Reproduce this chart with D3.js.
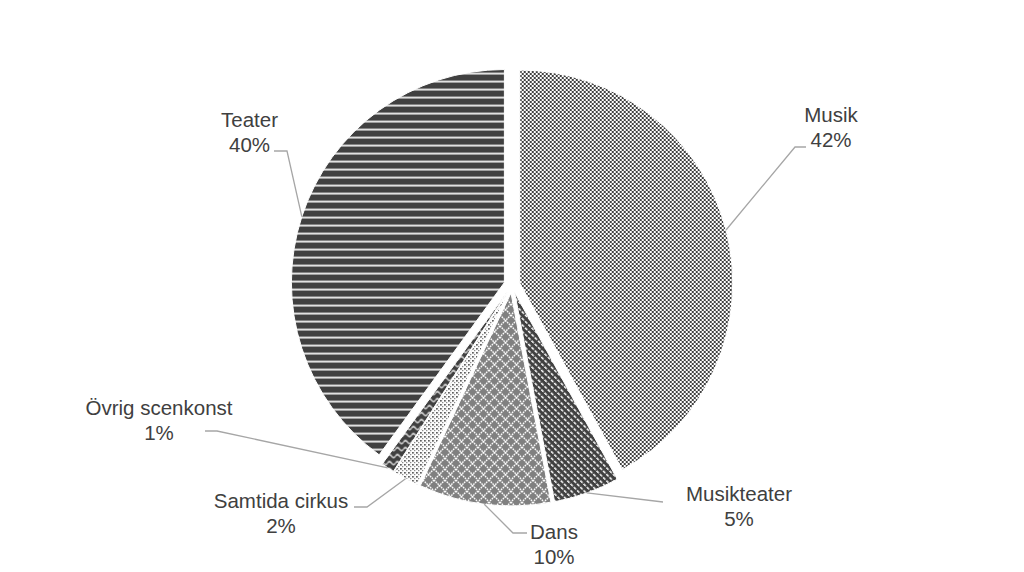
<!DOCTYPE html>
<html>
<head>
<meta charset="utf-8">
<script src="https://cdn.jsdelivr.net/npm/d3@7"></script>
<style>
html,body{margin:0;padding:0;background:#fff;}
svg{display:block;}
</style>
</head>
<body>
<svg id="chart" width="1024" height="572"></svg>
<script>
// ---- data ----
const categories = ["Musik", "Musikteater", "Dans", "Samtida cirkus", "Övrig scenkonst", "Teater"];
const values = [42, 5, 10, 2, 1, 40];
const valueLabels = ["42%", "5%", "10%", "2%", "1%", "40%"];

// ---- layout (label anchors & leader bends) ----
const labelLayout = [
  {x: 831, y: 122, pts: [[795, 147], [806, 147]]},
  {x: 739, y: 501, pts: [[663, 502]]},
  {x: 554, y: 539, pts: [[513, 533], [527, 533]]},
  {x: 281, y: 508, pts: [[367, 507], [354, 507]]},
  {x: 159, y: 415, pts: [[217, 431], [205, 431]]},
  {x: 249.5, y: 127, pts: [[287, 151], [274, 151]]}
];
const patternIds = ["pMusik", "pMusikteater", "pDans", "pSamtida", "pOvrig", "pTeater"];

const svg = d3.select("#chart");
const W = 1024, H = 572;
const cx = 512, cy = 285, R = 213, explode = 8;
const dark = "#404040";

// ---- patterns ----
const defs = svg.append("defs");
function pat(id, w, h, transform) {
  const p = defs.append("pattern").attr("id", id).attr("patternUnits", "userSpaceOnUse")
    .attr("width", w).attr("height", h);
  if (transform) p.attr("patternTransform", transform);
  return p;
}
// Musik: fine checkerboard
{
  const p = pat("pMusik", 4, 4);
  p.append("rect").attr("width", 4).attr("height", 4).attr("fill", "#fff");
  p.append("rect").attr("width", 2).attr("height", 2).attr("fill", dark);
  p.append("rect").attr("x", 2).attr("y", 2).attr("width", 2).attr("height", 2).attr("fill", dark);
}
// Teater: horizontal stripes
{
  const p = pat("pTeater", 8, 8);
  p.append("rect").attr("width", 8).attr("height", 8).attr("fill", dark);
  p.append("rect").attr("y", 6.2).attr("width", 8).attr("height", 1.8).attr("fill", "#f2f2f2");
}
// Musikteater: dark with white dotted diagonal lines
{
  const p = pat("pMusikteater", 4.6, 4.6, "rotate(-45)");
  p.append("rect").attr("width", 4.6).attr("height", 4.6).attr("fill", dark);
  p.append("rect").attr("x", 0).attr("y", 0).attr("width", 1.5).attr("height", 3.2).attr("fill", "#fff");
}
// Dans: gray with white lattice
{
  const s = 11;
  const p = pat("pDans", s, s);
  p.append("rect").attr("width", s).attr("height", s).attr("fill", "#808080");
  p.append("path").attr("d", `M0,0L${s},${s}M${s},0L0,${s}`)
    .attr("stroke", "#fff").attr("stroke-width", 1.4).attr("stroke-dasharray", "1.6 0.9").attr("fill", "none");
}
// Samtida cirkus: light dotted
{
  const p = pat("pSamtida", 4, 4);
  p.append("rect").attr("width", 4).attr("height", 4).attr("fill", "#fff");
  p.append("rect").attr("width", 1.6).attr("height", 1.6).attr("fill", dark);
  p.append("rect").attr("x", 2).attr("y", 2).attr("width", 1.2).attr("height", 1.2).attr("fill", "#777");
}
// Övrig scenkonst: dark with white waves
{
  const p = pat("pOvrig", 8, 7);
  p.append("rect").attr("width", 8).attr("height", 7).attr("fill", dark);
  p.append("path").attr("d", "M0,3.5 Q2,0.5 4,3.5 T8,3.5")
    .attr("stroke", "#fff").attr("stroke-width", 1.3).attr("fill", "none");
}

// ---- pie ----
const pie = d3.pie().sort(null).value(d => d.value).startAngle(0).endAngle(2 * Math.PI);
const data = categories.map((c, i) => ({name: c, value: values[i], pct: valueLabels[i], i}));
const arcs = pie(data);
const arc = d3.arc().innerRadius(0).outerRadius(R);

const g = svg.append("g").attr("transform", `translate(${cx},${cy})`);

function offset(a) {
  const m = (a.startAngle + a.endAngle) / 2;
  return [explode * Math.sin(m), -explode * Math.cos(m)];
}

g.selectAll("path.slice").data(arcs).enter().append("path")
  .attr("class", "slice")
  .attr("d", arc)
  .attr("transform", d => { const o = offset(d); return `translate(${o[0]},${o[1]})`; })
  .attr("fill", d => `url(#${patternIds[d.data.i]})`)
  .attr("stroke", "#fff")
  .attr("stroke-width", 1);

// ---- leader lines ----
const lineGen = d3.line();
arcs.forEach(d => {
  const o = offset(d);
  const m = (d.startAngle + d.endAngle) / 2;
  const start = [cx + o[0] + R * Math.sin(m), cy + o[1] - R * Math.cos(m)];
  const L = labelLayout[d.data.i];
  svg.append("path")
    .attr("d", lineGen([start, ...L.pts]))
    .attr("fill", "none")
    .attr("stroke", "#a6a6a6")
    .attr("stroke-width", 1.3);
});

// ---- labels ----
arcs.forEach(d => {
  const L = labelLayout[d.data.i];
  const t = svg.append("text")
    .attr("x", L.x).attr("y", L.y)
    .attr("text-anchor", "middle")
    .attr("font-family", "'Liberation Sans', Arial, sans-serif")
    .attr("font-size", "20.5px")
    .attr("fill", "#404040");
  t.append("tspan").attr("x", L.x).attr("y", L.y).text(d.data.name);
  t.append("tspan").attr("x", L.x).attr("y", L.y + 24.5).text(d.data.pct);
});
</script>
</body>
</html>
